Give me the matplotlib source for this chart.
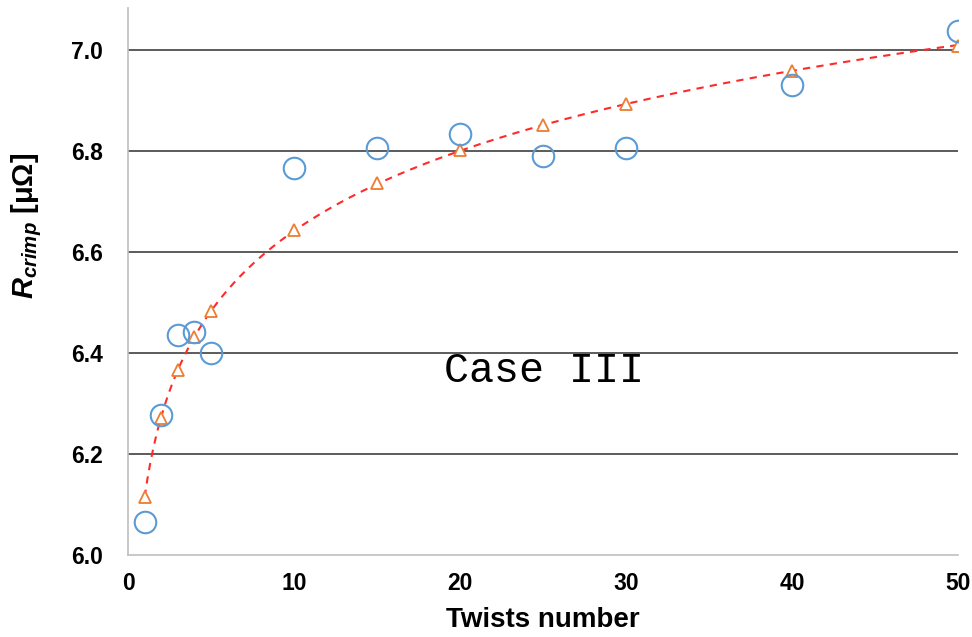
import numpy as np
import matplotlib
matplotlib.use("Agg")
import matplotlib.pyplot as plt

# Measured crimp resistance versus number of twists
twists = [1, 2, 3, 4, 5, 10, 15, 20, 25, 30, 40, 50]
r_measured = [6.065, 6.277, 6.436, 6.442, 6.400, 6.766, 6.806, 6.834, 6.790, 6.806, 6.930, 7.038]
# Model values at the same twist counts
r_model = [6.115, 6.272, 6.366, 6.432, 6.484, 6.643, 6.736, 6.802, 6.851, 6.893, 6.958, 7.008]

x_ticks = [0, 10, 20, 30, 40, 50]
y_ticks = [6.0, 6.2, 6.4, 6.6, 6.8, 7.0]

plt.rcParams["mathtext.fontset"] = "custom"
plt.rcParams["mathtext.it"] = "Liberation Sans:italic:bold"
plt.rcParams["mathtext.rm"] = "Liberation Sans:bold"
plt.rcParams["mathtext.bf"] = "Liberation Sans:bold"

fig = plt.figure(figsize=(9.72, 6.37), dpi=100)
ax = fig.add_axes([0.1317, 0.1287, 0.8543, 0.8587])

# Logarithmic trend through the model values
coef = np.polyfit(np.log(twists), r_model, 1)
xs = np.linspace(min(twists), max(twists), 300)
ax.plot(xs, coef[0] * np.log(xs) + coef[1], linestyle=(0, (3.5, 3)),
        color="#FF2A2A", linewidth=1.5, zorder=3)

ax.plot(twists, r_model, linestyle="none", marker="^", markersize=8,
        markerfacecolor="white", markeredgecolor="#ED7D31",
        markeredgewidth=1.3, zorder=4)
ax.plot(twists, r_measured, linestyle="none", marker="o", markersize=15.5,
        markerfacecolor="none", markeredgecolor="#5B9BD5",
        markeredgewidth=1.5, zorder=5)

ax.set_xlim(0, 50)
ax.set_ylim(6.0, 7.083)
ax.set_xticks(x_ticks)
ax.set_yticks(y_ticks)
ax.set_xticklabels([f"{v:d}" for v in x_ticks])
ax.set_yticklabels([f"{v:.1f}" for v in y_ticks])

for y in y_ticks[1:]:
    ax.axhline(y, color="#404040", linewidth=1.2, zorder=1)

for side in ("top", "right"):
    ax.spines[side].set_visible(False)
for side in ("left", "bottom"):
    ax.spines[side].set_color("#BFBFBF")
    ax.spines[side].set_linewidth(1.2)

ax.tick_params(axis="y", length=0, pad=18)
ax.tick_params(axis="x", length=0, pad=12)
for lbl in ax.get_xticklabels() + ax.get_yticklabels():
    lbl.set_fontfamily("Liberation Sans")
    lbl.set_fontweight("bold")
    lbl.set_fontsize(16.5)

ax.set_xlabel("Twists number", fontfamily="Liberation Sans",
              fontweight="bold", fontsize=20, labelpad=9)
fig.text(27 / 972, 1 - 226 / 637, r"$R_{crimp}$ [μΩ]", rotation=90,
         ha="center", va="center", fontfamily="Liberation Sans",
         fontweight="bold", fontsize=21)

ax.text(25.05, 6.364, "Case III", fontfamily="Liberation Mono",
        fontsize=30, ha="center", va="center", color="black")

fig.savefig("out.png", dpi=100)
